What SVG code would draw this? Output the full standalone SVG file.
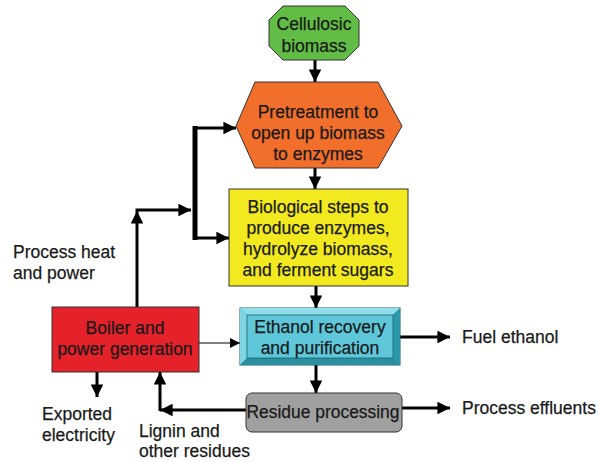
<svg xmlns="http://www.w3.org/2000/svg" width="599" height="462" viewBox="0 0 599 462">
<style>
text{font-family:"Liberation Sans",Arial,sans-serif;font-size:17.5px;fill:#1a1a1a;stroke:#1a1a1a;stroke-width:0.25;}
.c{text-anchor:middle;}
.ln{stroke:#000;stroke-width:3;fill:none;}
.thin{stroke:#000;stroke-width:1.2;fill:none;}
.box{stroke:#333;stroke-width:1;}
</style>
<defs>
<marker id="ah" viewBox="0 0 10 10" refX="10" refY="5" markerWidth="4.2" markerHeight="4.2" markerUnits="strokeWidth" orient="auto">
<path d="M0,0 L10,5 L0,10 z" fill="#000"/>
</marker>
<marker id="ahs" viewBox="0 0 10 10" refX="10" refY="5" markerWidth="10" markerHeight="10" markerUnits="userSpaceOnUse" orient="auto">
<path d="M0,0 L10,5 L0,10 z" fill="#000"/>
</marker>
</defs>
<rect width="599" height="462" fill="#fff"/>
<g id="connectors">
<line class="ln" x1="315" y1="60" x2="315" y2="82" marker-end="url(#ah)"/>
<line class="ln" x1="315" y1="168" x2="315" y2="189" marker-end="url(#ah)"/>
<line class="ln" x1="316" y1="286" x2="316" y2="308" marker-end="url(#ah)"/>
<line class="ln" x1="400" y1="337" x2="450" y2="337" marker-end="url(#ah)"/>
<line class="ln" x1="316" y1="365" x2="316" y2="393" marker-end="url(#ah)"/>
<line class="ln" x1="402" y1="408" x2="450" y2="408" marker-end="url(#ah)"/>
<line class="ln" x1="250" y1="410" x2="160" y2="410" marker-end="url(#ah)"/>
<line class="ln" x1="160" y1="411" x2="160" y2="372" marker-end="url(#ah)"/>
<line class="ln" x1="97" y1="372" x2="97" y2="397" marker-end="url(#ah)"/>
<line class="thin" x1="199" y1="343" x2="240" y2="343" marker-end="url(#ahs)"/>
<line class="ln" x1="137" y1="307" x2="137" y2="211" marker-end="url(#ah)"/>
<polyline class="ln" points="137,211 137,210 191,210" marker-end="url(#ah)"/>
<line stroke="#000" stroke-width="5" x1="195" y1="126" x2="195" y2="240"/>
<line class="ln" x1="195" y1="128" x2="236" y2="128" marker-end="url(#ah)"/>
<line class="ln" x1="195" y1="238" x2="229" y2="238" marker-end="url(#ah)"/>
</g>
<g id="cellulosic">
<polygon class="box" points="283,6 345,6 359,20 359,46 345,60 283,60 269,46 269,20" fill="#62bd46"/>
<text class="c" x="314" y="30">Cellulosic</text>
<text class="c" x="314" y="52">biomass</text>
</g>
<g id="pretreatment">
<polygon class="box" points="255,82 378,82 402,126 378,168 255,168 236,126" fill="#f26e2b"/>
<text class="c" x="318" y="118">Pretreatment to</text>
<text class="c" x="318" y="139">open up biomass</text>
<text class="c" x="318" y="160">to enzymes</text>
</g>
<g id="biological">
<rect class="box" x="229" y="189" width="179" height="97" fill="#f2ea1f"/>
<text class="c" x="318" y="213">Biological steps to</text>
<text class="c" x="318" y="234">produce enzymes,</text>
<text class="c" x="318" y="255">hydrolyze biomass,</text>
<text class="c" x="318" y="276">and ferment sugars</text>
</g>
<g id="ethanol">
<rect x="240" y="308" width="160" height="57" fill="#2c9fb0" stroke="#1d5f6b" stroke-width="1"/>
<polygon points="240,308 400,308 393,315 247,315" fill="#8fdde8"/>
<polygon points="240,308 247,315 247,358 240,365" fill="#7fd5e2"/>
<polygon points="400,308 400,365 393,358 393,315" fill="#2a98a8"/>
<polygon points="240,365 247,358 393,358 400,365" fill="#2a8f9e"/>
<rect x="247" y="315" width="146" height="43" fill="#5ec8da" stroke="#1d5f6b" stroke-width="0.8"/>
<text class="c" x="320" y="333">Ethanol recovery</text>
<text class="c" x="320" y="354">and purification</text>
</g>
<g id="residue">
<rect class="box" x="246" y="393" width="156" height="39" rx="6" fill="#a0a0a0"/>
<text class="c" x="323" y="418" textLength="153" lengthAdjust="spacingAndGlyphs">Residue processing</text>
</g>
<g id="boiler">
<rect class="box" x="52" y="307" width="147" height="65" fill="#e5212a"/>
<text class="c" x="125" y="334">Boiler and</text>
<text class="c" x="125" y="355">power generation</text>
</g>
<g id="labels">
<text x="462" y="343">Fuel ethanol</text>
<text x="462" y="414">Process effluents</text>
<text x="13" y="258">Process heat</text>
<text x="13" y="279">and power</text>
<text x="42" y="420">Exported</text>
<text x="42" y="441">electricity</text>
<text x="139" y="437">Lignin and</text>
<text x="139" y="457">other residues</text>
</g>
</svg>
